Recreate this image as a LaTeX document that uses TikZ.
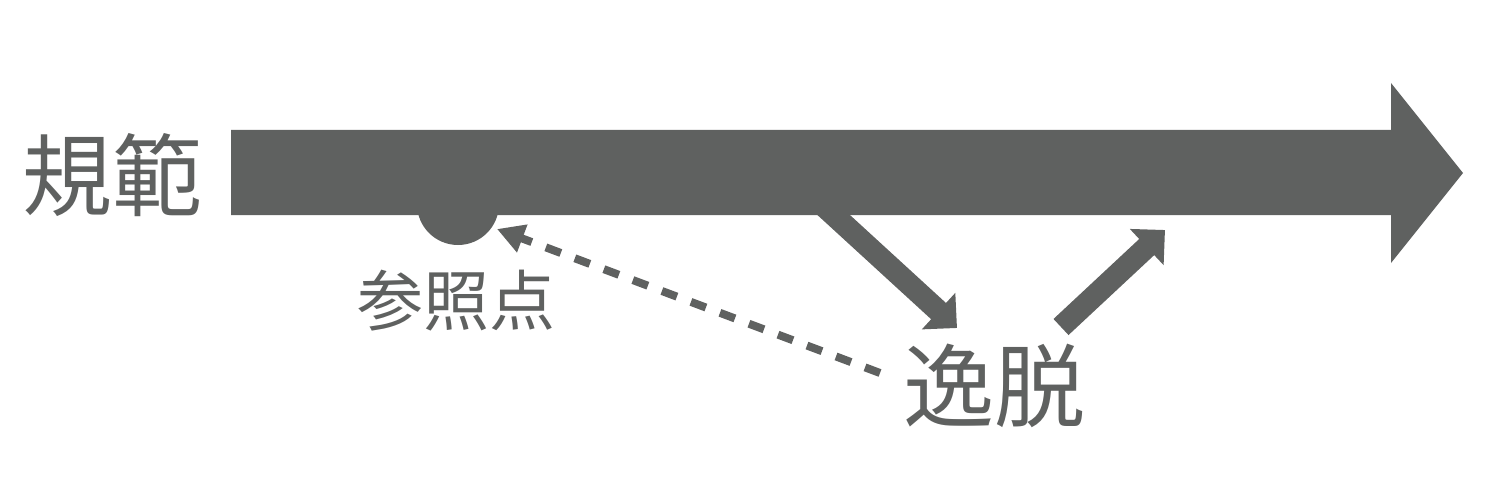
\documentclass[tikz,border=0pt]{standalone}
\usepackage{fontspec}
\setmainfont{Noto Sans CJK JP}
\usetikzlibrary{arrows.meta}
\definecolor{ink}{RGB}{95,97,96}
\begin{document}
\begin{tikzpicture}[x=1pt,y=-1pt,
  lbl/.style={inner sep=0pt,anchor=base,text=ink},
  thickarrow/.style={draw=ink,line width=22pt,-{Triangle[length=25pt,width=48pt]}},
  dasharrow/.style={draw=ink,line width=8pt,dash pattern=on 16pt off 15pt,-{Triangle[length=27pt,width=28pt]}}]
\useasboundingbox (0,0) rectangle (1502,492);
% reference point (circle)
\fill[ink] (458,204) circle (41pt);
\coordinate (ref) at (497,229);
% named coordinates for connectors
\coordinate (down start) at (790,175);
\coordinate (down end) at (957,328);
\coordinate (up start) at (1061,327);
\coordinate (up end) at (1165,230);
\coordinate (dash start) at (880,373);
% deviation arrows
\draw[thickarrow] (down start) -- (down end);
\draw[thickarrow] (up start) -- (up end);
% main norm arrow
\fill[ink] (231,130) -- (1391,130) -- (1391,83) -- (1463,173) -- (1391,263) -- (1391,215) -- (231,215) -- cycle;
% dashed arrow back to reference point
\draw[dasharrow] (dash start) -- (ref);
% labels
\node[lbl,font=\fontsize{90pt}{90pt}\selectfont] (norm) at (112,209) {規範};
\node[lbl,font=\fontsize{66pt}{66pt}\selectfont] (refpt) at (456,325) {参照点};
\node[lbl,font=\fontsize{91pt}{91pt}\selectfont] (dev) at (994,420) {逸脱};
\end{tikzpicture}
\end{document}
